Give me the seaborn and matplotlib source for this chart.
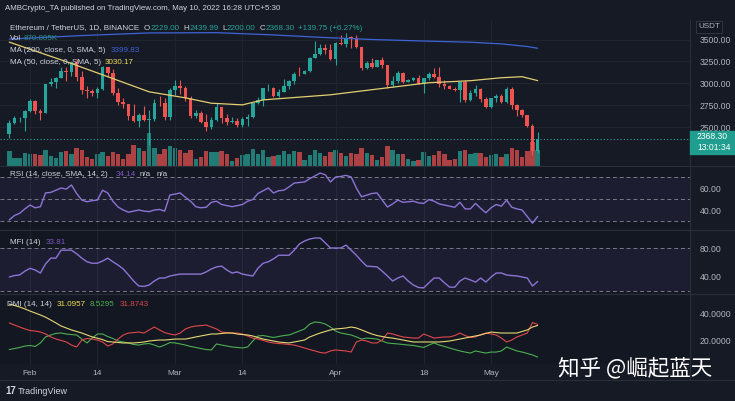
import numpy as np
import pandas as pd
import matplotlib
matplotlib.use("Agg")
import matplotlib.pyplot as plt
import seaborn as sns
from matplotlib.patches import Rectangle

# ---------------- data ----------------
dates = pd.date_range("2022-01-28", "2022-05-10", freq="D")

opens = [2424, 2547, 2598, 2603, 2688, 2792, 2681, 2665, 2986, 3013, 3057, 3142, 3123, 3239, 3077,
         2927, 2915, 2883, 2930, 3183, 3122, 2885, 2786, 2760, 2626, 2571, 2639, 2581, 2597, 2778,
         2776, 2619, 2920, 2972, 2950, 2834, 2621, 2664, 2555, 2496, 2575, 2727, 2608, 2557, 2567,
         2518, 2590, 2619, 2772, 2814, 2945, 2950, 2860, 2897, 2971, 3030, 3110, 3107, 3145, 3292,
         3330, 3401, 3385, 3282, 3456, 3443, 3522, 3521, 3411, 3172, 3233, 3191, 3262, 3210, 2981,
         3030, 3120, 3020, 3041, 3064, 2992, 3058, 3104, 3076, 2987, 2964, 2936, 2922, 3009, 2808,
         2889, 2936, 2816, 2726, 2827, 2857, 2782, 2940, 2749, 2694, 2636, 2517, 2229]
closes = [2547, 2598, 2603, 2688, 2792, 2681, 2665, 2986, 3013, 3057, 3142, 3123, 3239, 3077, 2927,
          2915, 2883, 2930, 3183, 3122, 2885, 2786, 2760, 2626, 2571, 2639, 2581, 2597, 2778, 2776,
          2619, 2920, 2972, 2950, 2834, 2621, 2664, 2555, 2496, 2575, 2727, 2608, 2557, 2567, 2518,
          2590, 2619, 2772, 2814, 2945, 2950, 2860, 2897, 2971, 3030, 3110, 3107, 3145, 3292, 3330,
          3401, 3385, 3282, 3456, 3443, 3522, 3521, 3411, 3172, 3233, 3191, 3262, 3210, 2981, 3030,
          3120, 3020, 3041, 3064, 2992, 3058, 3104, 3076, 2987, 2964, 2936, 2922, 3009, 2808, 2889,
          2936, 2816, 2726, 2827, 2857, 2782, 2940, 2749, 2694, 2636, 2517, 2229, 2368.3]
highs = [2578, 2625, 2620, 2700, 2815, 2807, 2702, 2995, 3062, 3067, 3190, 3188, 3247, 3282, 3138,
         2970, 2940, 2955, 3200, 3190, 3160, 2943, 2830, 2765, 2765, 2656, 2735, 2700, 2820, 2857,
         2836, 2950, 3041, 3037, 2970, 2855, 2695, 2685, 2651, 2620, 2780, 2733, 2654, 2615, 2602,
         2613, 2654, 2780, 2845, 2951, 2990, 2960, 2939, 3047, 3036, 3127, 3190, 3150, 3300, 3482,
         3446, 3446, 3446, 3476, 3555, 3580, 3535, 3547, 3413, 3250, 3285, 3269, 3305, 3212, 3080,
         3138, 3125, 3051, 3077, 3090, 3063, 3130, 3171, 3190, 3033, 2979, 2961, 3020, 3038, 2918,
         2980, 2944, 2848, 2836, 2882, 2880, 2955, 2954, 2758, 2711, 2640, 2530, 2440]
lows = [2370, 2531, 2557, 2458, 2677, 2654, 2580, 2657, 2965, 2947, 3055, 3023, 3078, 3030, 2876,
        2836, 2850, 2836, 2922, 3077, 2863, 2750, 2718, 2577, 2556, 2500, 2574, 2300, 2568, 2742,
        2580, 2575, 2866, 2878, 2793, 2607, 2604, 2545, 2456, 2477, 2572, 2550, 2528, 2548, 2503,
        2500, 2506, 2598, 2760, 2740, 2917, 2841, 2845, 2897, 2930, 2994, 3084, 3106, 3127, 3283,
        3322, 3338, 3262, 3210, 3433, 3415, 3407, 3405, 3150, 3162, 3175, 3185, 3180, 2950, 2953,
        3000, 3003, 3015, 3030, 2992, 2883, 3035, 3057, 2955, 2933, 2932, 2911, 2790, 2790, 2796,
        2853, 2782, 2722, 2714, 2785, 2770, 2778, 2705, 2625, 2620, 2498, 2176, 2200]
volumes_k = [800, 450, 420, 700, 650, 650, 600, 900, 550, 450, 750, 800, 650, 1000, 900,
             500, 400, 650, 750, 550, 750, 650, 400, 650, 1150, 1000, 800, 1800, 1000, 650,
             950, 1100, 1000, 900, 700, 850, 400, 500, 800, 750, 750, 800, 650, 300, 450,
             600, 650, 950, 650, 850, 500, 550, 600, 800, 650, 800, 750, 350, 600, 900,
             700, 550, 750, 850, 700, 550, 700, 650, 1000, 700, 600, 350, 500, 1100, 850,
             650, 650, 400, 300, 350, 750, 550, 600, 800, 650, 350, 400, 800, 900, 650,
             700, 700, 500, 600, 650, 500, 650, 1000, 900, 500, 800, 1300, 871]

ma50_days = [0, 11, 19, 27, 34, 39, 45, 49, 62, 73, 81, 89, 95, 99, 102]
ma50_vals = [3470, 3247, 3075, 2902, 2833, 2772, 2753, 2810, 2868, 2948, 3006, 3029, 3063, 3075, 3030.17]
ma200_days = [0, 14, 27, 40, 50, 60, 70, 81, 89, 95, 100, 102]
ma200_vals = [3505, 3545, 3575, 3578, 3555, 3525, 3500, 3481, 3469, 3450, 3420, 3399.83]

rsi = [31, 35, 37, 41, 44.5, 42, 43, 55.5, 56, 58, 60, 59, 62.7, 55, 49, 47.5, 48.5, 49, 58, 55.5,
       48, 42.7, 40, 38, 39, 40, 39, 38.5, 40, 40.5, 39, 53.6, 54.5, 55.5, 51.5, 48, 43, 42, 42.5, 47,
       48, 45, 44, 43, 44, 45, 48, 49.5, 55, 57.5, 60, 55.5, 57.5, 58, 61, 64.5, 65, 65.5, 68.5, 71,
       73.6, 72, 65.5, 70, 70.5, 71.5, 70, 60, 52, 53.5, 55, 55.5, 49, 42.7, 45.5, 49, 47, 47.5, 48, 46.5,
       46, 49.5, 48, 45.5, 44.5, 43.5, 42.5, 47, 41, 41, 46, 41.5, 37.5, 42, 45, 43.5, 49, 42.5, 41, 40,
       34, 28, 34.14]
mfi = [40, 42, 42.8, 48, 52, 49.6, 45.5, 58, 66, 66, 77, 77, 77, 72, 66, 61, 59, 59, 62, 66,
       61, 56.5, 51, 43, 34.5, 27.6, 27, 29, 34.5, 38.6, 38.6, 41.4, 42.8, 44, 44, 44, 44, 44, 47, 51,
       54, 55, 49.6, 45.5, 47, 44, 42.7, 41.4, 52, 59, 61, 65, 70, 70, 70, 77, 85.5, 89.7, 92.4, 93.8,
       93.8, 87, 80, 80, 80, 84, 77, 70, 62, 55, 54.5, 54, 48, 41.4, 34.5, 38.6, 41.4, 34.5, 29, 25.5,
       25, 32, 38.6, 38.6, 32, 26, 26, 34.5, 38.6, 36, 33, 38.6, 33, 40, 45.5, 45.5, 42.8, 42, 41.4, 40,
       38.6, 27.6, 33.81]
adx = [46.4, 45.4, 44.3, 42.9, 41.4, 40, 38.6, 37, 35, 32.9, 30.7, 29.3, 27.9, 26.8, 25.7, 24.3, 22.9,
       22, 21, 19.6, 19.3, 18.9, 18.6, 18.6, 18.6, 18.9, 19.3, 20, 20.4, 20.7, 20.7, 21, 21.4, 21.4, 21.4,
       22.1, 22.9, 23.6, 24.3, 25, 25, 25.4, 25.7, 25.7, 25, 24.6, 24.3, 23.6, 22.5, 21.4, 20.7, 20, 19.3,
       18.9, 18.6, 19.3, 20, 20.7, 22.9, 24.3, 25.7, 26.8, 27.9, 28.6, 28.9, 29.3, 30, 29.3, 27.9, 26.4,
       25, 23.9, 23.2, 22.5, 22.1, 21.4, 20.7, 20, 19.3, 19.3, 19.3, 19.3, 19.3, 19.3, 19.6, 20, 20.7,
       21.4, 22.1, 22.9, 23.6, 24.3, 25.4, 26.4, 26, 25.7, 25.7, 25.7, 25.7, 26.8, 27.9, 30, 31.0957]
plus_di = [13.9, 14.6, 15.4, 16.4, 16.8, 16.1, 18.6, 22.9, 24.3, 25.4, 25.7, 25, 24.6, 24.3, 21.4, 18.6,
           22.1, 25, 25, 23.2, 21.8, 20, 19.3, 18.6, 17.5, 17.1, 17.9, 18.2, 17.1, 15.7, 17.1, 18.9, 18.6,
           17.9, 17.1, 16.1, 15.4, 14.6, 13.9, 13.6, 17.9, 17.1, 16.4, 15.7, 15.4, 15, 15.7, 20, 23.6, 23.9,
           23.2, 22.5, 23.2, 23.9, 24.3, 25.7, 27.1, 28.6, 32.1, 33.6, 33.2, 32.1, 30, 27.1, 25.7, 25, 24.3,
           22.9, 21.4, 22.1, 21.8, 21.4, 20, 18.6, 18.2, 17.9, 17.5, 17.1, 16.8, 16.1, 15.4, 17.1, 18.6, 17.1,
           16.1, 15, 13.9, 12.9, 12.1, 11.4, 12.9, 12.1, 11.4, 12.1, 12.1, 12.9, 15.7, 14.3, 12.9, 12.1, 11.1,
           10, 8.5295]
minus_di = [32.9, 31.4, 30, 28.6, 27.5, 27.1, 26.4, 25, 22.9, 21.4, 20.4, 19.3, 17.1, 15.7, 20.7, 21.8,
            21.4, 20.7, 19.3, 16.4, 17.9, 21.4, 24.3, 25.7, 26, 26.4, 25.7, 27.9, 30, 27.9, 26, 25, 24.3,
            25.7, 28.6, 30, 30.7, 31, 31.4, 30, 28.6, 26.4, 26, 25.7, 25.7, 25, 23.6, 22.1, 21.4, 20.4,
            19.3, 18.6, 18.2, 17.9, 17.5, 17.1, 16.1, 15, 13.9, 12.9, 11.8, 11.4, 12.9, 13.6, 13.2, 12.9,
            12.1, 19.3, 20.7, 20, 18.6, 18.6, 20.7, 25.7, 25, 23.9, 22.9, 22.5, 22.1, 22.1, 25, 23.6, 22.1,
            22.5, 22.9, 22.9, 23.9, 25.7, 23.9, 22.5, 22.9, 24.6, 25.7, 25, 24.3, 22.1, 19.3, 20.7, 22.9,
            24.3, 25.7, 33.2, 31.8743]

time_tick_days = [4, 17, 32, 45, 63, 80, 93]
time_tick_labels = ["Feb", "14", "Mar", "14", "Apr", "18", "May"]
price_ticks = [2500, 2750, 3000, 3250, 3500]

# ---------------- styling ----------------
sns.set_theme(style="dark")
plt.rcParams["font.family"] = ["Liberation Sans", "DejaVu Sans"]

W, H = 735, 401
BG = "#161a25"
PANE = "#131722"
GRID = "#20242f"
TXT = "#b2b5be"
LBL = "#d1d4dc"
UP, DN = "#26a69a", "#ef5350"
PURPLE = "#7e57c2"

fig = plt.figure(figsize=(W / 100, H / 100), dpi=100, facecolor=BG)
renderer = fig.canvas.get_renderer()


def frect(x0, y0, x1, y1):
    return [x0 / W, 1 - y1 / H, (x1 - x0) / W, (y1 - y0) / H]


def ftext(x, y, s, color=TXT, size=5.8, **kw):
    return fig.text(x / W, 1 - y / H, s, color=color, fontsize=size, va="center", ha="left", **kw)


def seq(x, y, parts, size=5.8):
    """Place text segments one after another, measuring each one."""
    for s, col, gap in parts:
        t = ftext(x, y, s, color=col, size=size)
        x += t.get_window_extent(renderer).width + gap


X0, X1 = -9.3 / 5.18, (690 - 9.3) / 5.18
x = np.arange(len(opens))
o = np.array(opens, float)
c = np.array(closes, float)
hi = np.array(highs, float)
lo = np.array(lows, float)
up = c >= o
cols = np.where(up, UP, DN)


def style_pane(ax, ylim, ticks, labels):
    ax.set_facecolor(PANE)
    ax.set_xlim(X0, X1)
    ax.set_ylim(*ylim)
    for s in ax.spines.values():
        s.set_visible(False)
    ax.yaxis.tick_right()
    ax.set_yticks(ticks)
    ax.set_yticklabels(labels)
    ax.tick_params(axis="y", length=0, pad=7, labelsize=6.2, labelcolor=TXT)
    ax.set_xticks(time_tick_days)
    ax.set_xticklabels([])
    ax.tick_params(axis="x", length=0)
    ax.grid(False)
    for d in time_tick_days:
        ax.axvline(d, color=GRID, lw=0.8, zorder=0)


# ---- main price pane ----
ax_v = fig.add_axes(frect(0, 20, 690, 166))
ax_v.set_facecolor(PANE)
ax_v.set_xlim(X0, X1)
ax_v.set_ylim(0, 8000)
ax_v.axis("off")
ax_v.bar(x, volumes_k, width=0.85, color=cols, alpha=0.7, linewidth=0)

ax = fig.add_axes(frect(0, 20, 690, 166))
style_pane(ax, (2054.3, 3722.9), price_ticks, [f"{p:.2f}" for p in price_ticks])
ax.patch.set_visible(False)
for p in price_ticks:
    ax.axhline(p, color=GRID, lw=0.8, zorder=0)
ax.vlines(x, lo, hi, color=cols, lw=0.8, zorder=3)
ax.bar(x, np.maximum(np.abs(c - o), 4), bottom=np.minimum(o, c), width=0.7, color=cols,
       linewidth=0, zorder=4)
sns.lineplot(x=ma200_days, y=ma200_vals, ax=ax, color="#3d64d8", lw=0.9, legend=False, zorder=5)
sns.lineplot(x=ma50_days, y=ma50_vals, ax=ax, color="#e3cf72", lw=0.9, legend=False, zorder=5)
ax.axhline(closes[-1], color="#26a69a", lw=0.8, ls=(0, (1, 2)), zorder=2)
ax.set_xlabel("")
ax.set_ylabel("")

# ---- RSI ----
ax_r = fig.add_axes(frect(0, 167, 690, 229))
style_pane(ax_r, (22.73, 79.09), [60, 40], ["60.00", "40.00"])
ax_r.axhspan(30, 70, color=PURPLE, alpha=0.1, lw=0)
for lv in (70, 50, 30):
    ax_r.axhline(lv, color="#787b86", lw=0.7, ls=(0, (4, 3)))
sns.lineplot(x=x, y=rsi, ax=ax_r, color="#8c74d4", lw=1.0, legend=False)
ax_r.set_xlabel("")
ax_r.set_ylabel("")

# ---- MFI ----
ax_m = fig.add_axes(frect(0, 231, 690, 293))
style_pane(ax_m, (17.93, 103.45), [80, 40], ["80.00", "40.00"])
ax_m.axhspan(20, 80, color=PURPLE, alpha=0.1, lw=0)
for lv in (80, 20):
    ax_m.axhline(lv, color="#787b86", lw=0.7, ls=(0, (4, 3)))
sns.lineplot(x=x, y=mfi, ax=ax_m, color="#8c74d4", lw=1.0, legend=False)
ax_m.set_xlabel("")
ax_m.set_ylabel("")

# ---- DMI ----
ax_d = fig.add_axes(frect(0, 295, 690, 364))
style_pane(ax_d, (3.57, 52.86), [40, 20], ["40.0000", "20.0000"])
sns.lineplot(x=x, y=plus_di, ax=ax_d, color="#4caf50", lw=0.8, legend=False)
sns.lineplot(x=x, y=minus_di, ax=ax_d, color="#e0474c", lw=0.8, legend=False)
sns.lineplot(x=x, y=adx, ax=ax_d, color="#e6d873", lw=0.8, legend=False)
ax_d.set_xticklabels(time_tick_labels)
ax_d.tick_params(axis="x", length=0, pad=4, labelsize=6, labelcolor=TXT)
ax_d.set_xlabel("")
ax_d.set_ylabel("")

# pane separators
for yy in (166.5, 230, 294, 380):
    fig.add_artist(plt.Line2D([0, 1], [1 - yy / H] * 2, color="#2a2e39", lw=0.8))
fig.add_artist(plt.Line2D([690 / W] * 2, [1 - 20 / H, 1 - 380 / H], color="#2a2e39", lw=0.8))

# ---- texts ----
ftext(5, 9, "AMBCrypto_TA published on TradingView.com, May 10, 2022 16:28 UTC+5:30",
      color=LBL, size=5.7)
seq(10, 28, [("Ethereum / TetherUS, 1D, BINANCE", LBL, 5), ("O", LBL, 0), ("2229.00", UP, 4),
             ("H", LBL, 0), ("2439.99", UP, 4), ("L", LBL, 0), ("2200.00", UP, 4),
             ("C", LBL, 0), ("2368.30", UP, 4), ("+139.75 (+6.27%)", UP, 0)])
seq(10, 39, [("Vol", LBL, 2), ("870.805K", "#2c8c84", 0)])
seq(10, 51, [("MA (200, close, 0, SMA, 5)", LBL, 5), ("3399.83", "#3d64d8", 0)])
seq(10, 62, [("MA (50, close, 0, SMA, 5)", LBL, 4),
             ("3030.17", "#f0dc5a", 0)])

seq(10, 175, [("RSI (14, close, SMA, 14, 2)", LBL, 8), ("34.14", PURPLE, 4), ("n/a", LBL, 5),
              ("n/a", LBL, 0)])
seq(10, 242, [("MFI (14)", LBL, 5), ("33.81", PURPLE, 0)])
seq(7, 305, [("DMI (14, 14)", LBL, 5), ("31.0957", "#f0e050", 4), ("8.5295", "#4caf50", 5),
             ("31.8743", "#e0474c", 0)])

# price-scale extras
ftext(698, 27, "USDT", color=TXT, size=5.8,
      bbox=dict(boxstyle="square,pad=0.25", fc=PANE, ec="#363a45", lw=0.6))
fig.add_artist(Rectangle((690 / W, 1 - 154 / H), 45 / W, 23 / H, transform=fig.transFigure,
                         color="#1f9e8f", zorder=5))
ftext(697, 137, "2368.30", color="white", size=6.2, zorder=6)
ftext(697, 148, "13:01:34", color="white", size=6.2, zorder=6)

# footer
ftext(5, 391, "17", color=LBL, size=7, fontweight="bold")
ftext(18, 391, "TradingView", color=LBL, size=6.5)

# watermark
fig.text(558 / W, 1 - 368 / H, "知乎 @崛起蓝天", color="white", fontsize=15.5,
         family=["Noto Sans CJK SC", "DejaVu Sans"], va="center", ha="left", zorder=10)

fig.savefig("out.png", dpi=100, facecolor=BG)
